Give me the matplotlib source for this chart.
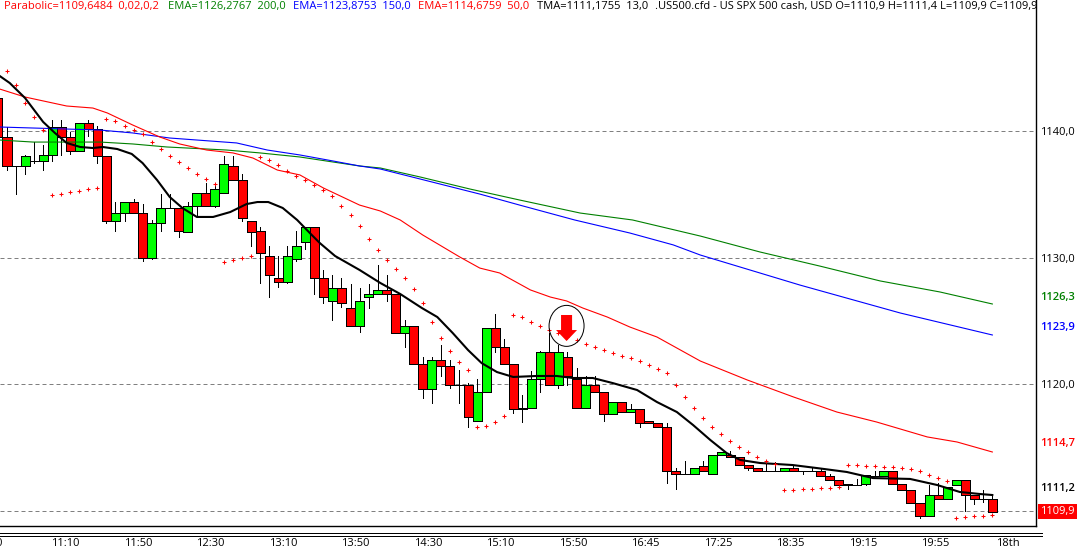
import matplotlib
matplotlib.use('Agg')
import matplotlib.pyplot as plt
from matplotlib.lines import Line2D
from matplotlib.patches import Ellipse, Polygon
import numpy as np

plt.rcParams['font.family'] = ['Open Sans', 'DejaVu Sans']

## candles, first one is bar -1 (cut by the left edge)
opens = [1142.6, 1139.5, 1137.2, 1137.2, 1137.6, 1137.6, 1138.1, 1140.3, 1139.5, 1138.4,
         1140.6, 1140.2, 1138.0, 1132.9, 1133.5, 1134.4, 1133.5, 1130.0, 1132.7, 1133.9,
         1133.9, 1132.0, 1134.1, 1135.1, 1134.1, 1135.1, 1137.2, 1136.1, 1132.9, 1132.1,
         1130.1, 1128.4, 1128.1, 1129.9, 1131.2, 1132.4, 1128.4, 1126.6, 1127.6, 1126.0,
         1124.6, 1126.9, 1127.1, 1127.4, 1127.1, 1124.0, 1124.6, 1121.6, 1119.6, 1121.9,
         1121.4, 1119.9, 1119.9, 1117.1, 1119.4, 1124.4, 1122.9, 1121.6, 1118.0, 1118.1,
         1120.4, 1122.5, 1119.9, 1122.1, 1120.4, 1118.1, 1119.9, 1119.4, 1117.6, 1118.6,
         1117.8, 1118.0, 1117.1, 1116.9, 1116.6, 1113.1, 1112.9, 1112.9, 1113.5, 1112.9,
         1114.4, 1114.4, 1114.2, 1113.6, 1113.4, 1113.1, 1113.1, 1113.1, 1113.4, 1113.1,
         1113.1, 1113.1, 1112.7, 1112.4, 1112.0, 1112.0, 1112.1, 1112.7, 1112.7, 1113.1,
         1112.1, 1111.6, 1110.6, 1109.6, 1111.2, 1110.9, 1112.0, 1112.4, 1111.2, 1110.9, 1110.9]
highs = [1142.6, 1140.3, 1137.2, 1138.1, 1139.1, 1138.9, 1140.9, 1140.9, 1139.9, 1140.6,
         1140.9, 1140.4, 1138.0, 1134.4, 1134.4, 1134.6, 1134.2, 1133.0, 1135.0, 1135.0,
         1133.9, 1134.4, 1135.1, 1135.9, 1135.9, 1138.0, 1138.0, 1136.6, 1132.9, 1132.4,
         1130.9, 1130.1, 1130.9, 1132.1, 1132.4, 1132.4, 1129.0, 1128.6, 1128.4, 1127.9,
         1127.6, 1127.9, 1129.4, 1128.6, 1127.1, 1125.1, 1124.6, 1122.1, 1122.1, 1123.1,
         1121.9, 1121.1, 1120.1, 1120.4, 1124.4, 1125.5, 1123.6, 1121.6, 1119.1, 1121.0,
         1122.6, 1124.0, 1123.1, 1122.5, 1121.3, 1120.6, 1120.6, 1119.4, 1118.6, 1118.6,
         1118.4, 1118.0, 1117.1, 1116.9, 1116.9, 1113.4, 1113.9, 1113.4, 1113.9, 1114.4,
         1114.6, 1114.7, 1114.2, 1113.6, 1113.4, 1113.8, 1113.8, 1113.4, 1113.6, 1113.1,
         1113.4, 1113.4, 1112.9, 1112.4, 1112.1, 1112.5, 1112.8, 1113.1, 1113.1, 1113.1,
         1112.1, 1111.6, 1110.6, 1112.0, 1112.2, 1111.9, 1112.4, 1112.4, 1111.2, 1111.6, 1111.3]
lows = [1139.5, 1136.9, 1135.0, 1136.6, 1137.5, 1136.9, 1137.6, 1138.1, 1138.2, 1138.4,
        1139.6, 1137.5, 1132.7, 1132.1, 1132.9, 1133.5, 1129.7, 1129.9, 1132.1, 1133.9,
        1131.6, 1132.0, 1133.3, 1134.1, 1134.0, 1135.1, 1136.1, 1132.9, 1130.9, 1128.0,
        1126.9, 1127.7, 1128.0, 1129.7, 1130.7, 1127.1, 1126.4, 1125.1, 1126.1, 1124.6,
        1124.1, 1126.0, 1127.1, 1126.6, 1124.0, 1122.9, 1121.6, 1118.9, 1118.5, 1120.6,
        1119.7, 1118.5, 1116.6, 1117.1, 1119.4, 1122.5, 1121.6, 1117.7, 1117.0, 1118.1,
        1119.4, 1119.9, 1119.7, 1119.9, 1118.1, 1118.1, 1119.4, 1117.1, 1117.6, 1117.8,
        1117.8, 1116.6, 1116.9, 1116.6, 1112.2, 1111.7, 1112.9, 1112.9, 1113.1, 1112.9,
        1114.4, 1114.2, 1113.6, 1113.2, 1113.1, 1113.1, 1113.1, 1113.1, 1113.1, 1112.9,
        1113.1, 1112.7, 1112.4, 1112.0, 1111.7, 1112.0, 1112.0, 1112.7, 1112.7, 1112.1,
        1111.6, 1110.6, 1109.4, 1109.6, 1110.9, 1110.9, 1112.0, 1110.0, 1110.5, 1110.7, 1109.9]
closes = [1139.5, 1137.2, 1137.2, 1138.0, 1137.6, 1138.1, 1140.3, 1139.5, 1138.4, 1140.6,
          1140.2, 1138.0, 1132.9, 1133.5, 1134.4, 1133.5, 1130.0, 1132.7, 1133.9, 1133.9,
          1132.1, 1134.1, 1135.1, 1134.1, 1135.4, 1137.4, 1136.1, 1133.1, 1132.0, 1130.4,
          1128.6, 1128.1, 1130.1, 1130.9, 1132.4, 1128.4, 1126.9, 1127.6, 1126.4, 1124.6,
          1126.6, 1127.1, 1127.4, 1127.1, 1124.0, 1124.6, 1121.6, 1119.6, 1121.9, 1121.4,
          1119.9, 1119.9, 1117.4, 1119.4, 1124.4, 1122.9, 1121.6, 1118.0, 1118.1, 1120.4,
          1122.5, 1119.9, 1122.5, 1120.6, 1118.1, 1119.9, 1119.4, 1117.6, 1118.6, 1117.8,
          1118.0, 1116.9, 1116.9, 1116.6, 1113.1, 1112.9, 1112.9, 1113.4, 1113.1, 1114.4,
          1114.6, 1114.2, 1113.6, 1113.4, 1113.1, 1113.1, 1113.1, 1113.4, 1113.1, 1113.1,
          1113.1, 1112.7, 1112.4, 1112.0, 1112.1, 1112.0, 1112.8, 1112.7, 1113.1, 1112.1,
          1111.6, 1110.6, 1109.6, 1111.2, 1110.9, 1111.9, 1112.4, 1111.2, 1110.9, 1110.9, 1109.9]

## TMA 13 (black)
tma_x = [-0.8, 0.3, 2.0, 4.0, 5.3, 6.6, 8.1, 9.5, 10.6, 12.2, 13.8, 15.0, 16.6, 18.0, 19.4, 21.0, 22.8,
         24.7, 26.5, 27.7, 28.9, 30.5, 32.1, 33.5, 34.6, 36.3, 39.0, 41.3, 43.5, 45.9, 47.6, 49.3, 51.0,
         52.5, 54.2, 56.0, 58.6, 60.8, 62.6, 64.8, 67.0, 69.7, 71.9, 74.1, 75.9, 77.8, 79.6, 81.1, 83.3,
         86.9, 89.6, 92.9, 95.8, 99.9, 102.9, 105.4, 107.6, 109.0]
tma_y = [1144.35, 1143.80, 1142.61, 1140.72, 1139.85, 1139.06, 1138.74, 1138.66, 1138.74, 1138.58,
         1138.19, 1137.47, 1136.13, 1134.79, 1133.92, 1133.21, 1133.21, 1133.60, 1134.23, 1134.39,
         1134.39, 1133.92, 1132.97, 1131.94, 1131.15, 1130.12, 1129.02, 1127.99, 1127.12, 1126.01,
         1125.30, 1124.04, 1122.69, 1121.66, 1120.95, 1120.56, 1120.64, 1120.64, 1120.48, 1120.48,
         1120.08, 1119.53, 1118.58, 1117.79, 1116.76, 1115.58, 1114.55, 1114.00, 1113.76, 1113.60,
         1113.36, 1113.05, 1112.57, 1112.50, 1112.02, 1111.47, 1111.31, 1111.23]

## EMA 200 (green)
ema200_x = [-0.8, 2.9, 10.3, 13.9, 17.7, 24.3, 28.0, 32.4, 36.1, 39.0, 41.3, 45.7, 51.2, 56.7, 63.4,
            69.2, 76.7, 83.3, 89.9, 96.6, 103.2, 109.0]
ema200_y = [1139.29, 1139.13, 1139.13, 1138.98, 1138.74, 1138.50, 1138.27, 1137.95, 1137.55, 1137.24,
            1137.08, 1136.37, 1135.42, 1134.55, 1133.52, 1132.97, 1131.70, 1130.44, 1129.33, 1128.15,
            1127.28, 1126.33]

## EMA 150 (blue)
ema150_x = [-0.8, 2.9, 10.3, 13.9, 18.0, 25.4, 28.8, 32.4, 36.1, 39.0, 41.3, 45.7, 52.3, 56.7, 62.8,
            68.9, 73.7, 76.7, 87.7, 98.8, 109.0]
ema150_y = [1140.32, 1140.24, 1140.08, 1139.85, 1139.45, 1139.06, 1138.50, 1138.11, 1137.63, 1137.24,
            1137.00, 1136.21, 1135.02, 1134.15, 1132.97, 1131.94, 1131.00, 1130.20, 1127.83, 1125.62,
            1123.88]

## EMA 50 (red)
ema50_x = [-0.8, 2.0, 6.6, 9.5, 11.1, 13.9, 16.9, 19.1, 22.1, 25.0, 27.2, 29.9, 32.4, 35.0, 39.0, 41.3,
           43.5, 46.0, 50.1, 52.3, 54.5, 57.9, 60.1, 61.9, 63.7, 66.4, 68.9, 71.9, 76.7, 81.9, 87.0,
           91.8, 96.2, 101.8, 105.1, 109.0]
ema50_y = [1143.32, 1142.69, 1141.98, 1141.82, 1141.43, 1140.48, 1139.53, 1138.98, 1138.50, 1138.27,
           1137.87, 1136.92, 1136.53, 1135.50, 1134.15, 1133.68, 1132.97, 1131.78, 1130.04, 1129.17,
           1128.78, 1127.44, 1126.88, 1126.57, 1126.01, 1125.30, 1124.51, 1123.72, 1121.82, 1120.32,
           1118.98, 1117.79, 1117.00, 1115.82, 1115.42, 1114.63]

## parabolic SAR, one dot per bar starting at bar 0
sar = [1144.75, 1143.64, 1142.22, 1141.11, 1140.08,
       1134.95, 1135.02, 1135.18, 1135.26, 1135.42, 1135.50,
       1140.95, 1140.79, 1140.40, 1140.08, 1139.77, 1139.13, 1138.58, 1138.03, 1137.55, 1137.08,
       1136.61, 1136.21, 1135.81,
       1129.65, 1129.81, 1129.96, 1130.12,
       1137.95, 1137.71, 1137.32, 1136.84, 1136.45, 1136.13, 1135.74, 1135.34, 1134.87, 1134.08,
       1133.36, 1132.49, 1131.47, 1130.60, 1129.81, 1129.10, 1128.38, 1127.52, 1126.41, 1124.91,
       1123.64, 1122.61, 1121.74, 1121.11,
       1116.61, 1116.69, 1117.00, 1117.48,
       1125.46, 1125.30, 1124.91, 1124.59, 1124.27, 1124.04, 1123.72, 1123.48, 1123.17, 1122.93,
       1122.69, 1122.46, 1122.22, 1122.06, 1121.82, 1121.51, 1121.19, 1120.87, 1119.93, 1118.98,
       1118.11, 1117.32, 1116.61, 1116.05, 1115.50, 1115.02, 1114.63, 1114.23, 1113.92, 1113.68,
       1111.62, 1111.62, 1111.70, 1111.70, 1111.78, 1111.78, 1111.86,
       1113.60, 1113.60, 1113.52, 1113.52, 1113.44, 1113.44, 1113.36, 1113.29, 1113.13, 1112.81,
       1112.57, 1112.34,
       1109.41, 1109.49, 1109.57, 1109.57, 1109.65]

time_labels = ['10:30', '11:10', '11:50', '12:30', '13:10', '13:50', '14:30', '15:10',
               '15:50', '16:45', '17:25', '18:35', '19:15', '19:55', '18th']
price_ticks = [1110, 1120, 1130, 1140]
price_labels = ['', '1120,0', '1130,0', '1140,0']

W, H = 1082, 556
FS = 8.05
PX = 0.72  # one pixel in points
fig = plt.figure(figsize=(W / 100, H / 100), dpi=100)
ax = fig.add_axes([0, 30 / H, 1036 / W, 526 / H])

x = np.arange(len(opens)) - 1
opens = np.array(opens)
closes = np.array(closes)
colors = ['#00ff00' if c > o else '#ff0000' for o, c in zip(opens, closes)]

ax.vlines(x, lows, highs, color='black', lw=PX, zorder=2, antialiased=False)
ax.bar(x, closes - opens, bottom=opens, width=1.0, color=colors, edgecolor='black',
       linewidth=PX, zorder=3, antialiased=False)

ax.plot(ema200_x, ema200_y, color='#008000', lw=0.8, zorder=4)
ax.plot(ema150_x, ema150_y, color='#0000ff', lw=0.8, zorder=4)
ax.plot(ema50_x, ema50_y, color='#ff0000', lw=0.8, zorder=4)
ax.plot(tma_x, tma_y, color='black', lw=1.5, zorder=5)
ax.plot(np.arange(len(sar)), sar, ls='none', marker='+', ms=3, mew=0.75, color='#ff0000', zorder=6)

# sell signal, circle and arrow
sig_x, sig_y = 61.9, 1124.6
ax.add_patch(Ellipse((sig_x, sig_y), 3.87, 3.24, fill=False, edgecolor='black', lw=PX, zorder=7))
ax.add_patch(Polygon([(sig_x - 0.61, 1125.46), (sig_x + 0.61, 1125.46), (sig_x + 0.61, 1124.27),
                      (sig_x + 1.16, 1124.27), (sig_x, 1123.40), (sig_x - 1.16, 1124.27),
                      (sig_x - 0.61, 1124.27)], color='#ff0000', lw=0, zorder=7))

label_pos = 6.45 + 8.02 * np.arange(-1, 14)
ax.set_xticks(label_pos[1:])
ax.set_xticklabels(time_labels[1:], fontsize=FS)
ax.xaxis.set_tick_params(length=0, pad=8.5)
# first time label sits left of the chart, only its last digit shows
ax.annotate(time_labels[0], (label_pos[0], 0), xycoords=('data', 'axes fraction'), xytext=(-3, -8.5),
            textcoords='offset points', ha='center', va='top', fontsize=FS, annotation_clip=False)
ax.yaxis.tick_right()
ax.set_yticks(price_ticks)
ax.set_yticklabels(price_labels, fontsize=FS)
ax.yaxis.set_tick_params(length=0, pad=3)
ax.grid(axis='y', color='#808080', lw=PX, ls=(0, (4, 3)), zorder=1)
ax.set_axisbelow(True)
ax.set_xlim(-0.774, 113.83)
ax.set_ylim(1108.78, 1150.36)

for s in ['top', 'left']:
  ax.spines[s].set_visible(False)
for s in ['bottom', 'right']:
  ax.spines[s].set_linewidth(1.0)

# last values on the price scale, the program prints them a bit above the line
ax.annotate('1126,3', (1, 1126.27), xycoords=('axes fraction', 'data'), xytext=(3, 5.4),
            textcoords='offset points', va='center', fontsize=FS, color='#008000', fontweight='semibold')
ax.annotate('1123,9', (1, 1123.88), xycoords=('axes fraction', 'data'), xytext=(3, 5.4),
            textcoords='offset points', va='center', fontsize=FS, color='#0000ff', fontweight='semibold')
ax.annotate('1114,7', (1, 1114.68), xycoords=('axes fraction', 'data'), xytext=(3, 5.4),
            textcoords='offset points', va='center', fontsize=FS, color='#ff0000', fontweight='semibold')
ax.annotate('1111,2', (1, 1111.18), xycoords=('axes fraction', 'data'), xytext=(3, 5.4),
            textcoords='offset points', va='center', fontsize=FS, color='black', fontweight='semibold')
ax.annotate('1109,9', (1, 1109.9), xycoords=('axes fraction', 'data'), xytext=(3, 0),
            textcoords='offset points', va='center', fontsize=FS, color='white',
            bbox=dict(facecolor='#ff0000', edgecolor='none', pad=1.5))

# double rule under the chart
for yp in [533, 536]:
  fig.add_artist(Line2D([0, 1042 / W], [1 - yp / H, 1 - yp / H], color='black', lw=PX))

# header line
header = [(4, 'Parabolic=1109,6484  0,02,0,2', '#ff0000'),
          (168, 'EMA=1126,2767  200,0', '#008000'),
          (293, 'EMA=1123,8753  150,0', '#0000ff'),
          (418, 'EMA=1114,6759  50,0', '#ff0000'),
          (537, 'TMA=1111,1755  13,0', 'black'),
          (655, '.US500.cfd - US SPX 500 cash, USD O=1110,9 H=1111,4 L=1109,9 C=1109,9', 'black')]
for xp, txt, col in header:
  fig.text(xp / W, 1 - 6 / H, txt, color=col, fontsize=FS, va='center', ha='left')

fig.savefig('out.png', dpi=100)
